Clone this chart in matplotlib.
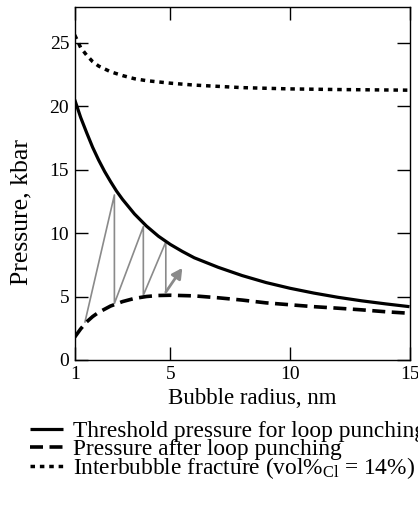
#!/usr/bin/env python
"""Bubble pressure vs radius: loop punching threshold, post-punch pressure
and interbubble fracture limit, with the grey growth sawtooth."""
from __future__ import annotations

import matplotlib
matplotlib.use("Agg")
import matplotlib.pyplot as plt  # noqa: E402

# threshold pressure for loop punching (solid)
thr_r = [1, 1.25, 1.5, 1.75, 2, 2.25, 2.5, 2.75, 3, 3.5, 4, 4.5, 5, 5.5, 6, 7, 8, 9,
         10, 11, 12, 13, 14, 15]
thr_p = [20.5, 19.1, 17.9, 16.75, 15.75, 14.85, 14.05, 13.3, 12.65, 11.5, 10.55, 9.75,
         9.1, 8.55, 8.05, 7.3, 6.65, 6.1, 5.65, 5.27, 4.94, 4.66, 4.42, 4.2]

# pressure after loop punching (dashed)
post_r = [1, 1.25, 1.5, 1.75, 2, 2.5, 3, 3.5, 4, 4.5, 5, 6, 7, 8, 9, 10, 11, 12, 13, 14, 15]
post_p = [1.8, 2.45, 3.0, 3.42, 3.75, 4.25, 4.6, 4.85, 5.0, 5.08, 5.1, 5.05, 4.9, 4.72,
          4.5, 4.35, 4.2, 4.08, 3.95, 3.8, 3.68]

# interbubble fracture, vol%Cl = 14% (dotted)
frac_r = [1, 1.25, 1.5, 1.75, 2, 2.5, 3, 3.5, 4, 5, 6, 7, 8, 10, 12, 15]
frac_p = [25.6, 24.6, 24.0, 23.5, 23.15, 22.7, 22.4, 22.15, 22.0, 21.8, 21.65,
          21.55, 21.45, 21.35, 21.3, 21.25]

# grey sawtooth (growth / punching cycles) and final arrow
saw_r = [1.43, 2.66, 2.66, 3.87, 3.87, 4.81, 4.81]
saw_p = [3.0, 13.0, 4.45, 10.5, 5.1, 9.3, 5.35]
arrow_start = (4.81, 5.35)
arrow_end = (5.5, 7.25)

x_ticks = [1, 5, 10, 15]
y_ticks = [0, 5, 10, 15, 20, 25]

labels = [
    "Threshold pressure for loop punching",
    "Pressure after loop punching",
    r"Interbubble fracture (vol%$_{\mathrm{Cl}}$ = 14%)",
]


def main() -> int:
    plt.rcParams["font.family"] = ["Liberation Serif", "DejaVu Serif"]
    plt.rcParams["mathtext.fontset"] = "custom"
    plt.rcParams["mathtext.rm"] = "Liberation Serif"
    plt.rcParams["mathtext.it"] = "Liberation Serif:italic"

    fig = plt.figure(figsize=(4.18, 5.11), dpi=100)
    ax = fig.add_axes([0.1787, 0.2955, 0.801, 0.6908])

    grey = "#8a8a8a"
    ax.plot(saw_r, saw_p, color=grey, lw=1.2, zorder=2)
    ax.annotate("", xy=arrow_end, xytext=arrow_start,
                arrowprops=dict(arrowstyle="-|>,head_length=0.6,head_width=0.32",
                                color=grey, lw=2.0, shrinkA=0, shrinkB=0),
                zorder=2)

    h1, = ax.plot(thr_r, thr_p, color="black", lw=2.3, solid_capstyle="butt", zorder=3)
    h2, = ax.plot(post_r, post_p, color="black", lw=2.6, dashes=(3.6, 1.8),
                  dash_capstyle="butt", zorder=3)
    h3, = ax.plot(frac_r, frac_p, color="black", lw=2.5, dashes=(1.3, 1.4),
                  dash_capstyle="butt", zorder=3)

    ax.set_xlim(1, 15)
    ax.set_ylim(0, 27.8)
    ax.set_xticks(x_ticks)
    ax.set_yticks(y_ticks)
    ax.tick_params(direction="in", length=9.5, width=1.0, labelsize=14,
                   top=True, right=True, pad=4)
    for sp in ax.spines.values():
        sp.set_linewidth(1.0)

    ax.set_xlabel("Bubble radius, nm", fontsize=16.5)
    ax.xaxis.set_label_coords(0.5296, -0.079)
    ax.set_ylabel("Pressure, kbar", fontsize=18.5)
    ax.yaxis.set_label_coords(-0.1275, 0.418)

    # one legend per row so the rows sit evenly spaced like the original
    row_y = [431.5, 449.5, 468.0]
    for h, lab, yc in zip([h1, h2, h3], labels, row_y):
        fig.legend([h], [lab], loc="center left",
                   bbox_to_anchor=(30 / 418, 1 - yc / 511), frameon=False,
                   fontsize=16.8, handlelength=1.4, handletextpad=0.45,
                   borderpad=0, borderaxespad=0)

    fig.savefig("out.png", dpi=100)
    return 0


if __name__ == "__main__":
    raise SystemExit(main())
